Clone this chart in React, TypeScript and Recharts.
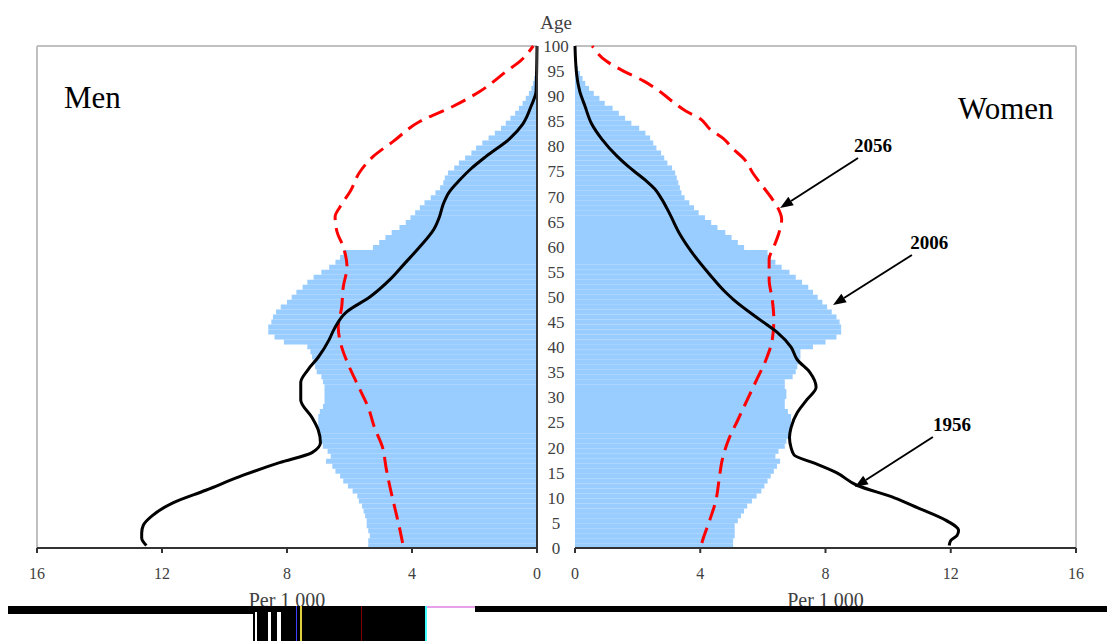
import React from 'react';
import { ComposedChart, Bar, Line, XAxis, YAxis, ReferenceLine, ReferenceDot } from 'recharts';

// ---------- data ----------
const ages: number[] = Array.from({ length: 101 }, (_, i) => i);

// 2006 population per 1 000, by single year of age 0..100
const men2006: number[] = [
  5.4, 5.4, 5.35, 5.4, 5.45, 5.45, 5.5, 5.55, 5.6, 5.7,
  5.75, 5.9, 6.05, 6.2, 6.3, 6.45, 6.55, 6.75, 6.6, 6.7,
  6.85, 6.9, 6.95, 7.0, 7.0, 7.0, 7.0, 6.95, 6.85, 6.8,
  6.8, 6.8, 6.8, 6.85, 6.9, 7.05, 7.1, 7.15, 7.2, 7.25,
  7.35, 8.1, 8.4, 8.6, 8.6, 8.5, 8.45, 8.35, 8.2, 8.0,
  7.85, 7.7, 7.5, 7.35, 7.15, 6.9, 6.65, 6.45, 6.3, 6.2,
  5.25, 5.05, 4.85, 4.65, 4.4, 4.2, 4.05, 3.9, 3.75, 3.6,
  3.4, 3.25, 3.1, 3.0, 2.95, 2.85, 2.65, 2.5, 2.3, 2.1,
  1.95, 1.75, 1.55, 1.35, 1.15, 1.0, 0.85, 0.7, 0.58, 0.46,
  0.36, 0.26, 0.18, 0.13, 0.09, 0.06, 0.04, 0.03, 0.02, 0.01,
  0.01,
];
const women2006: number[] = [
  5.05, 5.05, 5.1, 5.1, 5.1, 5.2, 5.3, 5.4, 5.5, 5.65,
  5.8, 5.95, 6.05, 6.15, 6.25, 6.35, 6.45, 6.55, 6.4, 6.5,
  6.7, 6.75, 6.85, 6.9, 6.9, 6.9, 6.9, 6.8, 6.7, 6.7,
  6.75, 6.75, 6.7, 6.7, 6.95, 7.05, 7.1, 7.15, 7.2, 7.2,
  7.6, 8.0, 8.35, 8.5, 8.5, 8.45, 8.35, 8.2, 8.05, 7.9,
  7.75, 7.6, 7.45, 7.25, 7.05, 6.85, 6.6, 6.4, 6.25, 6.15,
  5.4, 5.2, 5.0, 4.8, 4.55, 4.35, 4.15, 3.95, 3.8, 3.65,
  3.5, 3.4, 3.35, 3.3, 3.25, 3.2, 3.1, 2.95, 2.85, 2.75,
  2.6, 2.5, 2.4, 2.25, 2.05, 1.8, 1.6, 1.4, 1.2, 0.95,
  0.78, 0.6, 0.45, 0.33, 0.24, 0.16, 0.1, 0.06, 0.04, 0.02,
  0.02,
];

// 1956 and 2056 curves: [age, per 1 000]
const men1956Pts: [number, number][] = [
  [0.5, 12.5], [2, 12.65], [3, 12.65], [4.5, 12.6], [6.5, 12.3], [9, 11.65], [11.5, 10.6],
  [14.5, 9.4], [17, 8.24], [19, 7.2], [21, 6.93], [23.5, 7.0], [26, 7.2], [29.5, 7.56],
  [33, 7.56], [35.5, 7.33], [38, 7.0], [41.5, 6.65], [43.5, 6.5], [47, 6.1], [50, 5.35],
  [53.5, 4.7], [56.5, 4.26], [60, 3.75], [63.5, 3.3], [66, 3.12], [68.5, 3.0], [71, 2.8],
  [73, 2.52], [75.5, 2.12], [78, 1.63], [81.5, 0.88], [84.5, 0.45], [88, 0.19], [91, 0.03], [100, 0],
];
const men2056Pts: [number, number][] = [
  [1, 4.3], [4, 4.4], [8, 4.55], [12, 4.7], [16, 4.83], [20, 4.94], [24, 5.2], [28, 5.4],
  [32, 5.7], [36, 6.0], [40, 6.25], [44, 6.36], [48, 6.25], [52, 6.2], [56, 6.08], [60, 6.2],
  [63, 6.4], [66, 6.46], [68, 6.3], [71, 5.98], [75, 5.66], [78, 5.24], [81, 4.6], [85, 3.74],
  [88, 2.68], [91, 1.82], [95, 0.97], [97, 0.54], [100, 0.12],
];
const women1956Pts: [number, number][] = [
  [0.5, 11.95], [1.5, 12.0], [2.5, 12.2], [3.5, 12.25], [5.5, 11.85], [8, 10.95], [10, 10.2],
  [12.5, 9.0], [15, 8.35], [17, 7.6], [18.5, 7.0], [20, 6.9], [22, 6.85], [24, 6.9], [27, 7.1],
  [29.5, 7.4], [32, 7.7], [35, 7.5], [37.5, 7.1], [40, 6.9], [43, 6.45], [45.5, 5.9],
  [49.5, 5.06], [51, 4.8], [54.5, 4.3], [58.5, 3.78], [62.5, 3.35], [66.5, 3.03], [69.5, 2.77],
  [71.5, 2.55], [73, 2.3], [74.5, 2.0], [76, 1.7], [78, 1.35], [81.5, 0.85], [84.5, 0.53],
  [88, 0.32], [91, 0.15], [94.5, 0.05], [100, 0],
];
const women2056Pts: [number, number][] = [
  [1, 4.05], [2, 4.1], [5.5, 4.3], [9.5, 4.5], [13.5, 4.6], [17.5, 4.7], [21.5, 4.9],
  [25.5, 5.2], [29.5, 5.5], [33.5, 5.8], [37.5, 6.1], [41.5, 6.3], [45.5, 6.35], [49.5, 6.3],
  [53.5, 6.2], [57.5, 6.2], [60, 6.35], [62.5, 6.5], [65.5, 6.6], [67.5, 6.5], [69.5, 6.3],
  [72, 6.0], [74.5, 5.7], [77.5, 5.4], [79.5, 5.05], [81.5, 4.75], [83.5, 4.3], [85.5, 4.0],
  [87, 3.55], [89, 3.1], [91, 2.7], [93, 2.2], [95, 1.55], [97, 1.0], [100, 0.55],
];

const xTicks: number[] = [0, 4, 8, 12, 16];
const ageTicks: number[] = [0, 5, 10, 15, 20, 25, 30, 35, 40, 45, 50, 55, 60, 65, 70, 75, 80, 85, 90, 95, 100];

// ---------- derived tables ----------
const rows = ages.map((a, i) => ({ age: a, men: men2006[i], women: women2006[i] }));
const toLine = (pts: [number, number][]) => pts.map(([age, v]) => ({ age, v }));
const men1956 = toLine(men1956Pts);
const men2056 = toLine(men2056Pts);
const women1956 = toLine(women1956Pts);
const women2056 = toLine(women2056Pts);

// ---------- styles ----------
const SERIF = "'Liberation Serif', 'Times New Roman', serif";
const BLUE = '#99CCFF';
const FRAME = '#C0C0C0';
const AXIS = '#333333';
const TXT = '#404040';

const Arrow = (p: any) => {
  const { x1, y1, x2, y2 } = p;
  const ang = Math.atan2(y2 - y1, x2 - x1);
  const L = 13;
  const W = 5;
  const bx = x2 - L * Math.cos(ang);
  const by = y2 - L * Math.sin(ang);
  const pts = `${x2},${y2} ${bx + W * Math.sin(ang)},${by - W * Math.cos(ang)} ${bx - W * Math.sin(ang)},${by + W * Math.cos(ang)}`;
  return (
    <g>
      <line x1={x1} y1={y1} x2={bx} y2={by} stroke="#000" strokeWidth={2} />
      <polygon points={pts} fill="#000" />
    </g>
  );
};

const textShape = (label: string, size: number, bold: boolean, anchor: 'start' | 'middle') => (p: any) => (
  <text
    x={p.cx}
    y={p.cy}
    textAnchor={anchor}
    fontFamily={SERIF}
    fontSize={size}
    fontWeight={bold ? 'bold' : 'normal'}
    fill="#000"
  >
    {label}
  </text>
);

const AgeTick = (p: any) => (
  <text x={19} y={p.y} dy="0.35em" textAnchor="middle" fontFamily={SERIF} fontSize={17} fill={TXT}>
    {p.payload.value}
  </text>
);

const xAxisCommon = {
  type: 'number' as const,
  domain: [0, 16],
  ticks: xTicks,
  height: 60,
  tickSize: 5,
  tickMargin: 15,
  axisLine: { stroke: AXIS, strokeWidth: 2 },
  tickLine: { stroke: AXIS, strokeWidth: 2 },
  tick: { fontFamily: SERIF, fontSize: 16, fill: TXT },
  label: { value: 'Per 1 000', position: 'insideBottom', offset: 1, fontFamily: SERIF, fontSize: 20, fill: TXT },
};

export default function App() {
  return (
    <div style={{ position: 'absolute', left: 0, top: 0, width: 1107, height: 641, background: '#fff', overflow: 'hidden' }}>
      {/* Men */}
      <div style={{ position: 'absolute', left: 0, top: 0 }}>
        <ComposedChart
          width={560}
          height={641}
          layout="vertical"
          data={rows}
          margin={{ top: 46, right: 22, bottom: 33, left: 37 }}
          barCategoryGap={0.15}
        >
          <XAxis {...(xAxisCommon as any)} reversed />
          <YAxis yAxisId="cat" type="category" dataKey="age" reversed hide />
          <YAxis
            yAxisId="num"
            type="number"
            dataKey="age"
            domain={[0, 100]}
            reversed
            orientation="right"
            width={1}
            tick={false}
            tickLine={false}
            axisLine={{ stroke: AXIS, strokeWidth: 2 }}
          />
          <ReferenceLine yAxisId="num" y={100} stroke={FRAME} strokeWidth={2} />
          <ReferenceLine yAxisId="num" x={16} stroke={FRAME} strokeWidth={2} />
          <Bar yAxisId="cat" dataKey="men" fill={BLUE} isAnimationActive={false} />
          <Line yAxisId="num" data={men2056} dataKey="v" type="monotone" stroke="#FF0000" strokeWidth={3} strokeDasharray="16 8" dot={false} activeDot={false} isAnimationActive={false} />
          <Line yAxisId="num" data={men1956} dataKey="v" type="monotone" stroke="#000" strokeWidth={3} dot={false} activeDot={false} isAnimationActive={false} />
          <ReferenceDot yAxisId="num" x={15.14} y={87.65} r={0} shape={textShape('Men', 31, false, 'start')} />
        </ComposedChart>
      </div>
      {/* Women */}
      <div style={{ position: 'absolute', left: 537, top: 0 }}>
        <ComposedChart
          width={570}
          height={641}
          layout="vertical"
          data={rows}
          margin={{ top: 46, right: 31, bottom: 33, left: 0 }}
          barCategoryGap={0.15}
        >
          <XAxis {...(xAxisCommon as any)} />
          <YAxis yAxisId="cat" type="category" dataKey="age" reversed hide />
          <YAxis
            yAxisId="num"
            type="number"
            dataKey="age"
            domain={[0, 100]}
            ticks={ageTicks}
            interval={0}
            reversed
            orientation="left"
            width={38}
            tickLine={false}
            tick={AgeTick}
            axisLine={{ stroke: AXIS, strokeWidth: 2 }}
          />
          <ReferenceLine yAxisId="num" y={100} stroke={FRAME} strokeWidth={2} />
          <ReferenceLine yAxisId="num" x={16} stroke={FRAME} strokeWidth={2} />
          <Bar yAxisId="cat" dataKey="women" fill={BLUE} isAnimationActive={false} />
          <Line yAxisId="num" data={women2056} dataKey="v" type="monotone" stroke="#FF0000" strokeWidth={3} strokeDasharray="16 8" dot={false} activeDot={false} isAnimationActive={false} />
          <Line yAxisId="num" data={women1956} dataKey="v" type="monotone" stroke="#000" strokeWidth={3} dot={false} activeDot={false} isAnimationActive={false} />
          <ReferenceLine yAxisId="num" segment={[{ x: 9.04, y: 77.69 }, { x: 6.55, y: 67.73 }]} shape={Arrow} />
          <ReferenceLine yAxisId="num" segment={[{ x: 10.76, y: 58.37 }, { x: 8.24, y: 48.41 }]} shape={Arrow} />
          <ReferenceLine yAxisId="num" segment={[{ x: 11.43, y: 22.11 }, { x: 8.94, y: 12.15 }]} shape={Arrow} />
          <ReferenceDot yAxisId="num" x={9.52} y={78.9} r={0} shape={textShape('2056', 19, true, 'middle')} />
          <ReferenceDot yAxisId="num" x={11.31} y={59.56} r={0} shape={textShape('2006', 19, true, 'middle')} />
          <ReferenceDot yAxisId="num" x={12.04} y={23.3} r={0} shape={textShape('1956', 19, true, 'middle')} />
          <ReferenceDot yAxisId="num" x={12.23} y={85.46} r={0} shape={textShape('Women', 31, false, 'start')} />
        </ComposedChart>
      </div>
      {/* axis title between the two panels */}
      <div
        style={{
          position: 'absolute',
          left: 537,
          top: 13,
          width: 38,
          textAlign: 'center',
          fontFamily: SERIF,
          fontSize: 19,
          lineHeight: '19px',
          color: TXT,
        }}
      >
        Age
      </div>
      {/* scan artefacts at the bottom of the reference image */}
      <div style={{ position: 'absolute', left: 8, top: 606, width: 246, height: 8, background: '#000' }} />
      <div style={{ position: 'absolute', left: 253, top: 606, width: 172, height: 35, background: '#000' }} />
      <div style={{ position: 'absolute', left: 255, top: 612, width: 2, height: 29, background: '#fff' }} />
      <div style={{ position: 'absolute', left: 268, top: 612, width: 3, height: 29, background: '#fff' }} />
      <div style={{ position: 'absolute', left: 277, top: 612, width: 4, height: 29, background: '#fff' }} />
      <div style={{ position: 'absolute', left: 296, top: 606, width: 1, height: 35, background: '#4040ff' }} />
      <div style={{ position: 'absolute', left: 300, top: 606, width: 2, height: 35, background: '#e0d040' }} />
      <div style={{ position: 'absolute', left: 361, top: 606, width: 1, height: 35, background: '#800000' }} />
      <div style={{ position: 'absolute', left: 425, top: 606, width: 2, height: 35, background: '#40ffff' }} />
      <div style={{ position: 'absolute', left: 475, top: 606, width: 632, height: 6, background: '#000' }} />
      <div style={{ position: 'absolute', left: 427, top: 606, width: 48, height: 2, background: '#e8a0e8' }} />
    </div>
  );
}
